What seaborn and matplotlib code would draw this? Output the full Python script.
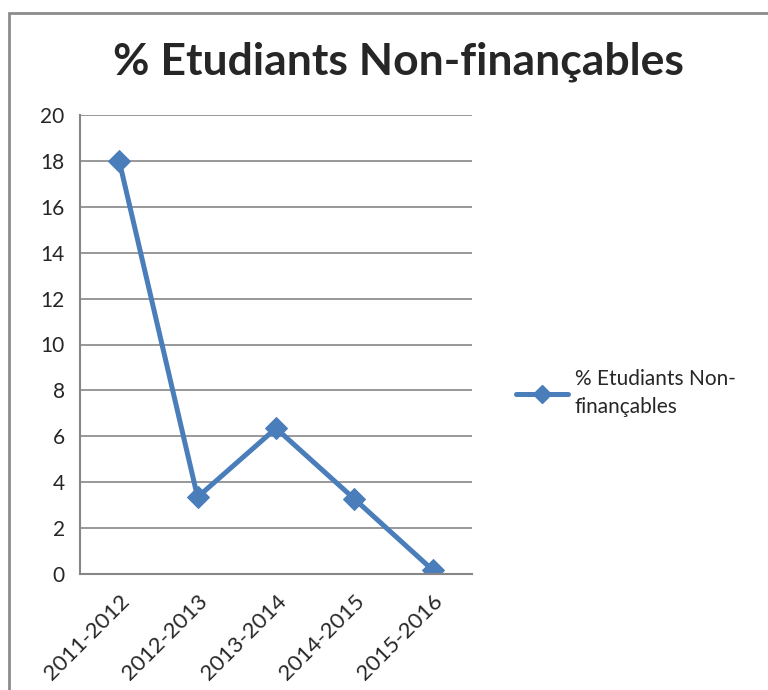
import matplotlib
matplotlib.use("Agg")
import matplotlib.pyplot as plt
import seaborn as sns
import pandas as pd
from matplotlib.lines import Line2D
from matplotlib.patches import Rectangle

# Data
years = ["2011-2012", "2012-2013", "2013-2014", "2014-2015", "2015-2016"]
pct_non_fin = [18.0, 3.35, 6.35, 3.27, 0.17]
series_name = "% Etudiants Non-finançables"

df = pd.DataFrame({"year": years, "pct": pct_non_fin})

sns.set_style("white")
plt.rcParams["font.family"] = ["Lato", "DejaVu Sans"]

blue = "#4A7EBB"
grid_gray = "#868686"

fig = plt.figure(figsize=(7.68, 6.9), dpi=100)
ax = fig.add_axes([80 / 768, 1 - 574 / 690, (472 - 80) / 768, (574 - 115) / 690])

sns.lineplot(data=df, x="year", y="pct", ax=ax, color=blue, linewidth=3.6,
             marker="D", markersize=11, markeredgecolor=blue, sort=False)

ax.set_ylim(0, 20)
ax.set_yticks(range(0, 21, 2))
ax.set_xlim(-0.5, len(years) - 0.5)
ax.set_xticks(range(len(years)))
ax.set_xticklabels(years, rotation=45, ha="right", rotation_mode="anchor", fontsize=16)
ax.set_xticks([i - 0.5 for i in range(len(years) + 1)], minor=True)
ax.tick_params(axis="x", which="major", length=0, pad=12)
ax.tick_params(axis="x", which="minor", length=7, color=grid_gray, width=1.2)
ax.tick_params(axis="y", length=6, color=grid_gray, width=1.2, labelsize=15, pad=5)
ax.yaxis.grid(True, color=grid_gray, linewidth=1.2)
ax.set_axisbelow(True)
ax.set_xlabel("")
ax.set_ylabel("")
for side in ["top", "right"]:
    ax.spines[side].set_visible(False)
for side in ["left", "bottom"]:
    ax.spines[side].set_color(grid_gray)
    ax.spines[side].set_linewidth(1.5)

fig.text(398 / 768, 1 - 62 / 690, series_name, ha="center", va="center",
         fontsize=32, fontweight="bold")

handle = Line2D([], [], color=blue, linewidth=3.6, marker="D", markersize=9)
leg = fig.legend([handle], ["% Etudiants Non-\nfinançables"], loc="center left",
                 bbox_to_anchor=(508 / 768, 1 - 393 / 690), frameon=False, fontsize=15,
                 handlelength=2.5, handletextpad=0.3, borderaxespad=0)
for t in leg.get_texts():
    t.set_linespacing(1.45)

# chart border
fig.add_artist(Rectangle((9 / 768, -0.01), 1.0, 1 - 13 / 690 + 0.01, transform=fig.transFigure,
                         fill=False, edgecolor="#8c8c8c", linewidth=2))

fig.savefig("out.png", dpi=100)
